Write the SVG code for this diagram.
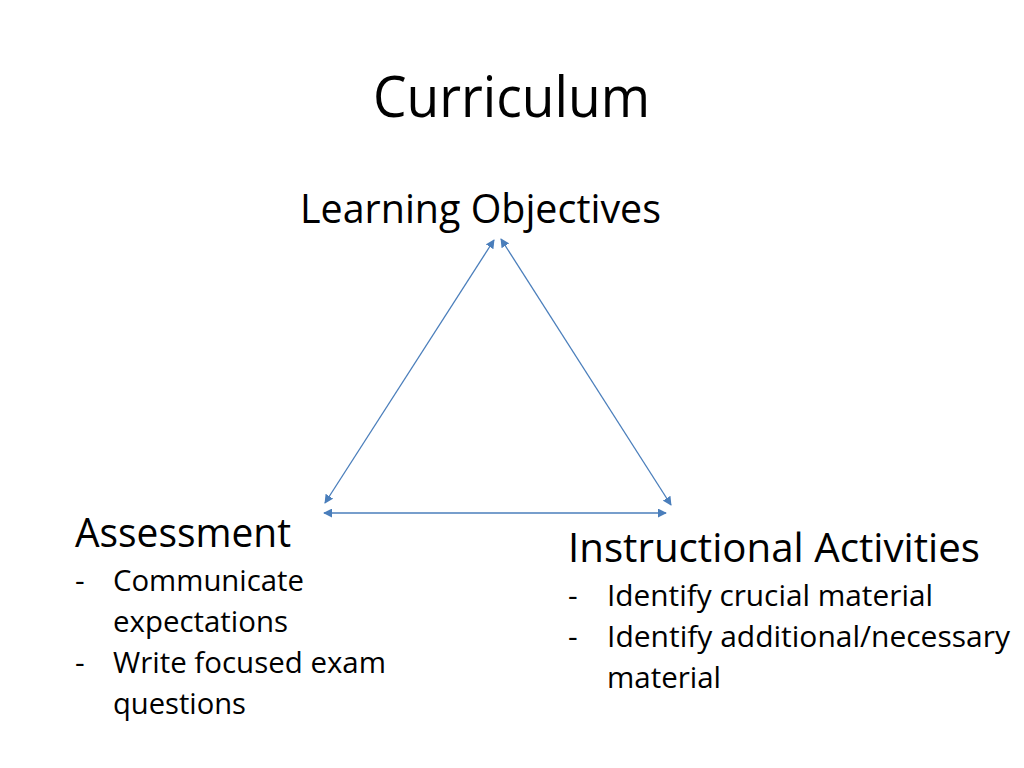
<svg xmlns="http://www.w3.org/2000/svg" width="1024" height="768" viewBox="0 0 1024 768">
<defs>
<marker id="ah" viewBox="0 0 10 10" refX="9" refY="5" markerWidth="9" markerHeight="9" markerUnits="userSpaceOnUse" orient="auto-start-reverse">
<path d="M0,0 L10,5 L0,10 z" fill="#4a7ebb"/>
</marker>
<style>
text{font-family:"Open Sans","Noto Sans","Liberation Sans",sans-serif;fill:#000;}
.title{font-size:56px;}
.head{font-size:41px;}
.item{font-size:30px;}
.conn{stroke:#4a7ebb;stroke-width:1.3;fill:none;marker-start:url(#ah);marker-end:url(#ah);}
</style>
</defs>
<rect width="1024" height="768" fill="#fff"/>
<text class="title" x="373" y="117" textLength="277" lengthAdjust="spacingAndGlyphs">Curriculum</text>
<g id="objectives">
<text class="head" x="300" y="223" textLength="361" lengthAdjust="spacingAndGlyphs">Learning Objectives</text>
</g>
<g id="assessment">
<text class="head" x="75" y="547" textLength="216" lengthAdjust="spacingAndGlyphs">Assessment</text>
<text class="item" x="75" y="591">-</text>
<text class="item" x="113" y="591" textLength="191" lengthAdjust="spacingAndGlyphs">Communicate</text>
<text class="item" x="113" y="632" textLength="175" lengthAdjust="spacingAndGlyphs">expectations</text>
<text class="item" x="75" y="673">-</text>
<text class="item" x="113" y="673" textLength="273" lengthAdjust="spacingAndGlyphs">Write focused exam</text>
<text class="item" x="113" y="714" textLength="133" lengthAdjust="spacingAndGlyphs">questions</text>
</g>
<g id="instructional">
<text class="head" x="568" y="562" textLength="412" lengthAdjust="spacingAndGlyphs">Instructional Activities</text>
<text class="item" x="568" y="606">-</text>
<text class="item" x="607" y="606" textLength="326" lengthAdjust="spacingAndGlyphs">Identify crucial material</text>
<text class="item" x="568" y="647">-</text>
<text class="item" x="607" y="647" textLength="403" lengthAdjust="spacingAndGlyphs">Identify additional/necessary</text>
<text class="item" x="607" y="688" textLength="114" lengthAdjust="spacingAndGlyphs">material</text>
</g>
<g id="connectors">
<line class="conn" x1="494" y1="240" x2="325" y2="503"/>
<line class="conn" x1="501" y1="239" x2="671" y2="505"/>
<line class="conn" x1="324" y1="513" x2="666" y2="513"/>
</g>
</svg>
